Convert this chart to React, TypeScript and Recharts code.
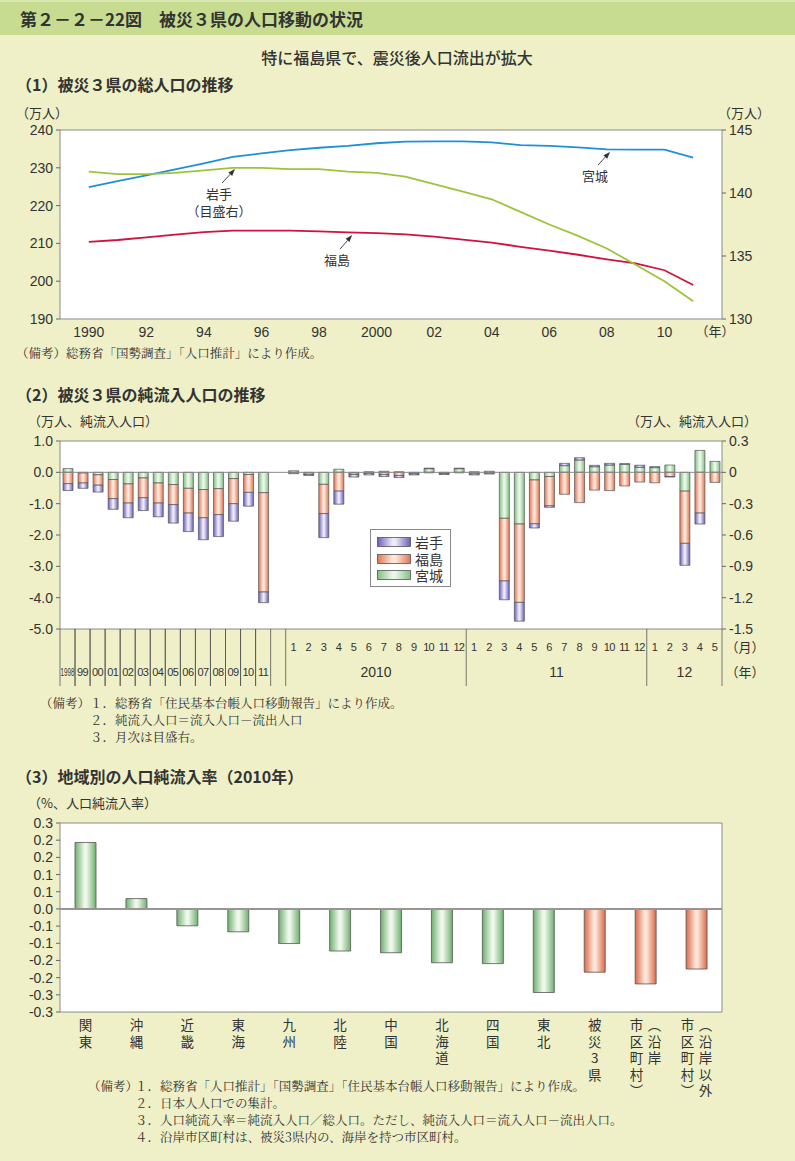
import React from 'react';
import {
  LineChart, Line, BarChart, Bar, Cell, XAxis, YAxis, CartesianGrid,
  ReferenceLine, ReferenceArea, Legend,
} from 'recharts';

const FONT_JP = '"Noto Sans CJK JP", "Noto Sans", sans-serif';
const FONT_NUM = '"Liberation Sans", Arial, "Noto Sans CJK JP", sans-serif';
const FONT_NOTE = '"Noto Serif CJK JP", "Noto Sans CJK JP", serif';
const BG = '#EFF0C7';
const TXT = '#333';
const FRAME = '#8a8a8a';

// ---------- (1) total population ----------
const popYears = [1990, 1991, 1992, 1993, 1994, 1995, 1996, 1997, 1998, 1999, 2000, 2001, 2002, 2003, 2004, 2005, 2006, 2007, 2008, 2009, 2010, 2011];
const popMiyagi = [224.9, 226.5, 228.0, 229.6, 231.2, 232.9, 233.8, 234.7, 235.3, 235.8, 236.5, 236.9, 237.0, 237.0, 236.7, 236.0, 235.8, 235.4, 234.9, 234.8, 234.8, 232.7];
const popFukushima = [210.4, 210.9, 211.6, 212.3, 213.0, 213.4, 213.4, 213.4, 213.2, 212.9, 212.7, 212.4, 211.8, 211.0, 210.2, 209.1, 208.1, 207.0, 205.8, 204.7, 202.9, 199.0];
const popIwate = [141.7, 141.5, 141.5, 141.6, 141.8, 142.0, 142.0, 141.9, 141.9, 141.7, 141.6, 141.3, 140.7, 140.1, 139.5, 138.5, 137.5, 136.6, 135.6, 134.3, 133.0, 131.4];
const popXTicks = [1990, 1992, 1994, 1996, 1998, 2000, 2002, 2004, 2006, 2008, 2010];
const popXTickLabels = ['1990', '92', '94', '96', '98', '2000', '02', '04', '06', '08', '10'];
const popLeftTicks = [190, 200, 210, 220, 230, 240];
const popRightTicks = [130, 135, 140, 145];
const popNotes = [
  { lines: ['岩手', '（目盛右）'], axis: 'r', from: [1994.63, 140.79], to: [1995.08, 141.9] },
  { lines: ['福島'], axis: 'l', from: [1998.73, 208.5], to: [1999.15, 212.2] },
  { lines: ['宮城'], axis: 'l', from: [2007.69, 230.7], to: [2008.11, 234.2] },
];
const popData = popYears.map((y, i) => ({ year: y, miyagi: popMiyagi[i], fukushima: popFukushima[i], iwate: popIwate[i] }));

// ---------- (2) net inflow ----------
const annualLabels = ['1998', '99', '00', '01', '02', '03', '04', '05', '06', '07', '08', '09', '10', '11'];
const annualIwate = [-0.22, -0.17, -0.22, -0.34, -0.47, -0.41, -0.44, -0.59, -0.59, -0.70, -0.70, -0.56, -0.44, -0.34];
const annualFukushima = [-0.36, -0.32, -0.33, -0.61, -0.61, -0.63, -0.64, -0.64, -0.79, -0.90, -0.83, -0.80, -0.57, -3.17];
const annualMiyagi = [0.12, -0.02, -0.08, -0.23, -0.37, -0.18, -0.34, -0.39, -0.51, -0.55, -0.52, -0.20, -0.07, -0.65];
const monthYearLabels = ['2010', '11', '12'];
const monthYearCounts = [12, 12, 5];
const monthlyIwate = [-0.01, -0.01, -0.23, -0.125, -0.025, -0.015, -0.02, -0.02, -0.01, 0.005, -0.008, 0.005, -0.01, -0.008, -0.18, -0.18, -0.04, -0.015, 0.022, 0.022, 0.013, 0.016, 0.006, 0.02, 0.01, -0.005, -0.21, -0.105, 0];
const monthlyFukushima = [-0.003, -0.015, -0.28, -0.18, -0.015, -0.01, -0.02, -0.03, -0.01, -0.005, -0.01, -0.005, -0.015, -0.008, -0.60, -0.75, -0.42, -0.28, -0.21, -0.29, -0.17, -0.175, -0.13, -0.093, -0.10, -0.04, -0.50, -0.39, -0.096];
const monthlyMiyagi = [0.015, -0.005, -0.115, 0.03, -0.005, 0.005, 0.01, 0.005, -0.005, 0.035, -0.003, 0.035, 0.005, 0.01, -0.44, -0.495, -0.073, -0.04, 0.064, 0.118, 0.054, 0.07, 0.077, 0.048, 0.045, 0.07, -0.18, 0.21, 0.105];
const flowLeftTicks = [1, 0, -1, -2, -3, -4, -5];
const flowRightTicks = [0.3, 0, -0.3, -0.6, -0.9, -1.2, -1.5];
const flowSeries = [
  { name: '岩手', grad: 'gIw' },
  { name: '福島', grad: 'gFu' },
  { name: '宮城', grad: 'gMi' },
];

type FlowRow = { key: string; kind: string; label?: string; month?: number; year?: string; count?: number; last?: boolean; [k: string]: any };
const flowData: FlowRow[] = [];
annualLabels.forEach((lab, i) => {
  flowData.push({ key: 'a' + i, kind: 'annual', label: lab, iwA: annualIwate[i], fuA: annualFukushima[i], miA: annualMiyagi[i] });
});
flowData.push({ key: 'gap', kind: 'gap' });
{
  let k = 0;
  monthYearLabels.forEach((yl, yi) => {
    for (let m = 1; m <= monthYearCounts[yi]; m++) {
      flowData.push({ key: `m${yi}-${m}`, kind: 'month', month: m, year: yl, count: monthYearCounts[yi], iwM: monthlyIwate[k], fuM: monthlyFukushima[k], miM: monthlyMiyagi[k] });
      k++;
    }
  });
}
flowData[flowData.length - 1].last = true;
const flowByKey = new Map(flowData.map((r) => [r.key, r]));
const FLOW_PLOT_W = 662;
const FLOW_SLOT = FLOW_PLOT_W / flowData.length;

// ---------- (3) regional net inflow rate ----------
const regionLabels = ['関東', '沖縄', '近畿', '東海', '九州', '北陸', '中国', '北海道', '四国', '東北', '被災3県', '（沿岸\n市区町村）', '（沿岸以外\n市区町村）'];
const regionRates = [0.232, 0.036, -0.059, -0.080, -0.121, -0.147, -0.153, -0.188, -0.191, -0.292, -0.221, -0.262, -0.210];
const regionGroups = ['r', 'r', 'r', 'r', 'r', 'r', 'r', 'r', 'r', 'r', 'd', 'd', 'd'];
const rateTicks = [0.3, 0.24, 0.18, 0.12, 0.06, 0, -0.06, -0.12, -0.18, -0.24, -0.3, -0.36];
const rateTickLabels = ['0.3', '0.2', '0.2', '0.1', '0.1', '0.0', '-0.1', '-0.1', '-0.2', '-0.2', '-0.3', '-0.3'];
const regionData = regionLabels.map((n, i) => ({ name: n, rate: regionRates[i], group: regionGroups[i] }));

// ---------- helpers ----------
function T({ x, y, size = 13, children, weight = 400, anchor = 'start', font = FONT_JP, color = TXT }: any) {
  const tx = anchor === 'middle' ? 'translateX(-50%)' : anchor === 'end' ? 'translateX(-100%)' : undefined;
  return (
    <div style={{ position: 'absolute', left: x, top: y - size * 0.6, fontSize: size, lineHeight: `${size * 1.2}px`, fontWeight: weight, whiteSpace: 'nowrap', fontFamily: font, color, transform: tx }}>
      {children}
    </div>
  );
}

function Arrow(props: any) {
  const { x1, y1, x2, y2, lines } = props;
  const ang = Math.atan2(y2 - y1, x2 - x1);
  const L = 7, W = 2.6;
  const bx = x2 - L * Math.cos(ang), by = y2 - L * Math.sin(ang);
  const px = -Math.sin(ang) * W, py = Math.cos(ang) * W;
  return (
    <g>
      <line x1={x1} y1={y1} x2={bx} y2={by} stroke="#333" strokeWidth={0.9} />
      <polygon points={`${x2},${y2} ${bx + px},${by + py} ${bx - px},${by - py}`} fill="#333" />
      {lines.map((t: string, i: number) => (
        <text key={i} x={x1 - 3} y={y1 + 16 + i * 17} textAnchor="middle" fontSize={13} fill={TXT} fontFamily={FONT_JP}>{t}</text>
      ))}
    </g>
  );
}

function FlowTick(props: any) {
  const { x, y, payload } = props;
  const row = flowByKey.get(payload.value);
  if (!row) return null;
  const h = FLOW_SLOT / 2;
  const lineBottom = y + 57;
  const out: any[] = [];
  if (row.kind === 'annual') {
    out.push(<line key="l1" x1={x - h} x2={x - h} y1={y} y2={lineBottom} stroke="#555" strokeWidth={0.8} />);
    out.push(<line key="l2" x1={x + h} x2={x + h} y1={y} y2={lineBottom} stroke="#555" strokeWidth={0.8} />);
    const long = row.label!.length > 2;
    out.push(
      <text key="t" x={x} y={y + 47} textAnchor="middle" fontSize={long ? 10 : 11} fill={TXT} fontFamily={FONT_NUM}
        {...(long ? { textLength: 14, lengthAdjust: 'spacingAndGlyphs' } : { letterSpacing: -0.6 })}>{row.label}</text>
    );
  } else if (row.kind === 'month') {
    if (row.month === 1) out.push(<line key="l1" x1={x - h} x2={x - h} y1={y} y2={lineBottom} stroke="#555" strokeWidth={0.8} />);
    out.push(
      <text key="m" x={x} y={y + 22} textAnchor="middle" fontSize={11} fill={TXT} fontFamily={FONT_NUM} letterSpacing={-0.8}>{row.month}</text>
    );
    const mid = Math.ceil(row.count! / 2);
    if (row.month === mid) {
      const off = row.count! % 2 === 0 ? h : 0;
      out.push(<text key="y" x={x + off} y={y + 48} textAnchor="middle" fontSize={14} fill={TXT} fontFamily={FONT_NUM}>{row.year}</text>);
    }
    if (row.last) {
      out.push(<line key="l2" x1={x + h} x2={x + h} y1={y} y2={lineBottom} stroke="#555" strokeWidth={0.8} />);
      out.push(<text key="um" x={x + h + 23} y={y + 23} textAnchor="middle" fontSize={13} fill={TXT} fontFamily={FONT_JP}>（月）</text>);
      out.push(<text key="uy" x={x + h + 23} y={y + 48} textAnchor="middle" fontSize={13} fill={TXT} fontFamily={FONT_JP}>（年）</text>);
    }
  }
  return <g>{out}</g>;
}

const vertChar = (c: string) => (c === '（' ? '︵' : c === '）' ? '︶' : c);

function RegionTick(props: any) {
  const { x, y, payload } = props;
  const cols = String(payload.value).split('\n');
  const n = cols.length;
  return (
    <g>
      {cols.map((col, ci) => {
        const cx = n === 1 ? x : ci === 0 ? x + 9 : x - 9;
        return Array.from(col).map((ch, k) => (
          <text key={`${ci}-${k}`} x={cx} y={y + 18 + k * 16.5} textAnchor="middle" fontSize={13.5} fill={TXT} fontFamily={FONT_JP}>{vertChar(ch)}</text>
        ));
      })}
    </g>
  );
}

function LegendBox() {
  return (
    <div style={{ background: '#fff', border: '1px solid #888', width: 81, height: 58, boxSizing: 'border-box', padding: '4px 0 0 6px' }}>
      {flowSeries.map((s) => (
        <div key={s.name} style={{ display: 'flex', alignItems: 'center', height: 16.5 }}>
          <svg width={34} height={10} style={{ display: 'block' }}>
            <rect x={0.5} y={0.5} width={33} height={9} fill={`url(#${s.grad})`} stroke="#555" strokeWidth={0.8} />
          </svg>
          <span style={{ marginLeft: 4, fontSize: 14, lineHeight: '16px', fontFamily: FONT_JP, color: TXT }}>{s.name}</span>
        </div>
      ))}
    </div>
  );
}

const grad = (id: string, edge: string, mid: string) => (
  <linearGradient id={id} x1="0" y1="0" x2="1" y2="0">
    <stop offset="0%" stopColor={edge} />
    <stop offset="45%" stopColor={mid} />
    <stop offset="55%" stopColor={mid} />
    <stop offset="100%" stopColor={edge} />
  </linearGradient>
);

const axisTick = { fontSize: 14, fill: TXT, fontFamily: FONT_NUM };

export default function App() {
  return (
    <div style={{ position: 'absolute', left: 0, top: 0, width: 795, height: 1161, background: BG, overflow: 'hidden', fontFamily: FONT_JP }}>
      {/* header */}
      <div style={{ position: 'absolute', left: 0, top: 0, width: 795, height: 35, background: '#C7DC90', borderTop: '2px solid #D9E8AE', boxSizing: 'border-box' }} />
      <T x={20} y={19} size={17} weight={700}>第２－２－22図　被災３県の人口移動の状況</T>
      <T x={397} y={58} size={16} weight={500} anchor="middle">特に福島県で、震災後人口流出が拡大</T>

      {/* (1) */}
      <T x={16} y={85} size={16} weight={700}>（1）被災３県の総人口の推移</T>
      <T x={16} y={113} size={13}>（万人）</T>
      <T x={718} y={113} size={13}>（万人）</T>
      <T x={715} y={331} size={13} anchor="middle">（年）</T>
      <div style={{ position: 'absolute', left: 0, top: 100 }}>
        <LineChart width={795} height={249} data={popData} margin={{ top: 30, right: 0, bottom: 0, left: 0 }}>
          <CartesianGrid fill="#fff" horizontal={false} vertical={false} />
          <XAxis dataKey="year" type="number" domain={[1989, 2012]} ticks={popXTicks} interval={0}
            tickFormatter={(v: number) => popXTickLabels[popXTicks.indexOf(v)] ?? ''}
            tick={axisTick} tickLine={false} axisLine={false} height={30} />
          <YAxis domain={[190, 240]} ticks={popLeftTicks} interval={0} tick={axisTick} width={60} tickSize={4} tickMargin={3} axisLine={false} tickLine={{ stroke: '#666' }} />
          <YAxis yAxisId="r" orientation="right" domain={[130, 145]} ticks={popRightTicks} interval={0} tick={axisTick} width={73} tickSize={4} tickMargin={3} axisLine={false} tickLine={{ stroke: '#666' }} />
          <ReferenceArea y1={190} y2={240} fill="none" stroke={FRAME} strokeWidth={1} />
          <Line dataKey="miyagi" stroke="#1F90D8" strokeWidth={1.8} dot={false} isAnimationActive={false} />
          <Line dataKey="fukushima" stroke="#D0123C" strokeWidth={1.8} dot={false} isAnimationActive={false} />
          <Line dataKey="iwate" yAxisId="r" stroke="#9CC43A" strokeWidth={1.8} dot={false} isAnimationActive={false} />
          {popNotes.map((n, i) => (
            <ReferenceLine key={i} yAxisId={n.axis === 'r' ? 'r' : 0}
              segment={[{ x: n.from[0], y: n.from[1] }, { x: n.to[0], y: n.to[1] }]}
              shape={(p: any) => <Arrow {...p} lines={n.lines} />} />
          ))}
        </LineChart>
      </div>
      <T x={16} y={353} size={12.5} font={FONT_NOTE}>（備考）総務省「国勢調査」「人口推計」により作成。</T>

      {/* (2) */}
      <T x={16} y={395} size={16} weight={700}>（2）被災３県の純流入人口の推移</T>
      <T x={28} y={421} size={13}>（万人、純流入人口）</T>
      <T x={627} y={421} size={13}>（万人、純流入人口）</T>
      <div style={{ position: 'absolute', left: 0, top: 410 }}>
        <BarChart width={795} height={279} data={flowData} stackOffset="sign" margin={{ top: 31, right: 0, bottom: 0, left: 0 }}>
          <defs>
            {grad('gIw', '#6A5DB8', '#ECE9F8')}
            {grad('gFu', '#E27452', '#FCE6DA')}
            {grad('gMi', '#80C080', '#EAF6E8')}
            {grad('gGr3', '#6FAF6F', '#EDF7EA')}
            {grad('gOr3', '#D96A48', '#FCE5D8')}
          </defs>
          <CartesianGrid fill="#fff" horizontal={false} vertical={false} />
          <XAxis dataKey="key" type="category" interval={0} tick={<FlowTick />} tickLine={false} tickSize={0} tickMargin={0} axisLine={false} height={60} />
          <XAxis dataKey="key" type="category" xAxisId="m" hide />
          <YAxis domain={[-5, 1]} ticks={flowLeftTicks} interval={0} tickFormatter={(v: number) => v.toFixed(1)} tick={axisTick} width={60} tickSize={4} tickMargin={3} axisLine={false} tickLine={{ stroke: '#666' }} />
          <YAxis yAxisId="r" orientation="right" domain={[-1.5, 0.3]} ticks={flowRightTicks} interval={0} tickFormatter={(v: number) => (v === 0 ? '0' : v.toFixed(1))} tick={axisTick} width={73} tickSize={4} tickMargin={3} axisLine={false} tickLine={{ stroke: '#666' }} />
          <ReferenceArea y1={-5} y2={1} fill="none" stroke={FRAME} strokeWidth={1} />
          <ReferenceLine y={0} stroke="#888" strokeWidth={1} />
          <Bar dataKey="miA" stackId="a" barSize={10} fill="url(#gMi)" stroke="#555" strokeWidth={0.7} isAnimationActive={false} />
          <Bar dataKey="fuA" stackId="a" barSize={10} fill="url(#gFu)" stroke="#555" strokeWidth={0.7} isAnimationActive={false} />
          <Bar dataKey="iwA" stackId="a" barSize={10} fill="url(#gIw)" stroke="#555" strokeWidth={0.7} isAnimationActive={false} />
          <Bar dataKey="miM" xAxisId="m" yAxisId="r" stackId="m" barSize={10} fill="url(#gMi)" stroke="#555" strokeWidth={0.7} isAnimationActive={false} />
          <Bar dataKey="fuM" xAxisId="m" yAxisId="r" stackId="m" barSize={10} fill="url(#gFu)" stroke="#555" strokeWidth={0.7} isAnimationActive={false} />
          <Bar dataKey="iwM" xAxisId="m" yAxisId="r" stackId="m" barSize={10} fill="url(#gIw)" stroke="#555" strokeWidth={0.7} isAnimationActive={false} />
          <Legend layout="horizontal" verticalAlign="middle" align="center" wrapperStyle={{ left: 370, top: 119, width: 81 }} content={() => <LegendBox />} />
        </BarChart>
      </div>
      <T x={40} y={703} size={12.5} font={FONT_NOTE}>（備考）</T>
      <T x={90} y={703} size={12.5} font={FONT_NOTE}>１．総務省「住民基本台帳人口移動報告」により作成。</T>
      <T x={90} y={720} size={12.5} font={FONT_NOTE}>２．純流入人口＝流入人口－流出人口</T>
      <T x={90} y={737} size={12.5} font={FONT_NOTE}>３．月次は目盛右。</T>

      {/* (3) */}
      <T x={16} y={777} size={16} weight={700}>（3）地域別の人口純流入率（2010年）</T>
      <T x={28} y={803} size={13}>（%、人口純流入率）</T>
      <div style={{ position: 'absolute', left: 0, top: 790 }}>
        <BarChart width={795} height={307} data={regionData} margin={{ top: 33, right: 73, bottom: 0, left: 0 }}>
          <CartesianGrid fill="#fff" horizontal={false} vertical={false} />
          <XAxis dataKey="name" type="category" interval={0} tick={<RegionTick />} tickLine={false} tickSize={0} tickMargin={0} axisLine={false} height={85} />
          <YAxis domain={[-0.36, 0.3]} ticks={rateTicks} interval={0}
            tickFormatter={(v: number) => rateTickLabels[rateTicks.findIndex((t) => Math.abs(t - v) < 1e-9)] ?? ''}
            tick={axisTick} width={60} tickSize={4} tickMargin={3} axisLine={false} tickLine={{ stroke: '#666' }} />
          <ReferenceArea y1={-0.36} y2={0.3} fill="none" stroke={FRAME} strokeWidth={1} />
          <ReferenceLine y={0} stroke="#9a9494" strokeWidth={2} />
          <Bar dataKey="rate" barSize={21} stroke="#555" strokeWidth={0.8} isAnimationActive={false}>
            {regionData.map((d, i) => (
              <Cell key={i} fill={d.group === 'd' ? 'url(#gOr3)' : 'url(#gGr3)'} />
            ))}
          </Bar>
        </BarChart>
      </div>
      <T x={88} y={1086} size={12.5} font={FONT_NOTE}>（備考）</T>
      <T x={135} y={1086} size={12.5} font={FONT_NOTE}>１．総務省「人口推計」「国勢調査」「住民基本台帳人口移動報告」により作成。</T>
      <T x={135} y={1103} size={12.5} font={FONT_NOTE}>２．日本人人口での集計。</T>
      <T x={135} y={1120} size={12.5} font={FONT_NOTE}>３．人口純流入率＝純流入人口／総人口。ただし、純流入人口＝流入人口－流出人口。</T>
      <T x={135} y={1137} size={12.5} font={FONT_NOTE}>４．沿岸市区町村は、被災3県内の、海岸を持つ市区町村。</T>
    </div>
  );
}
